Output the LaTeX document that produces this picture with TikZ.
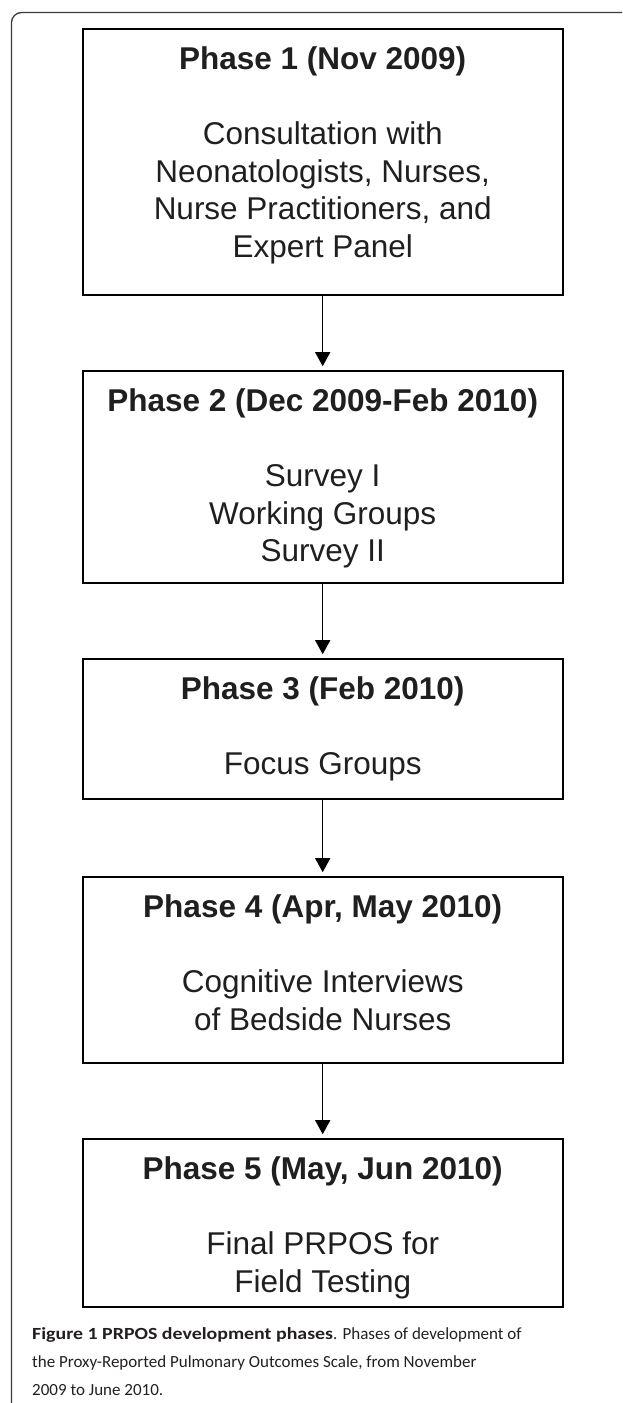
\documentclass[tikz,border=0pt]{standalone}
\usepackage{fontspec}
\setmainfont{Liberation Sans}
\newfontfamily\capfont{Carlito}
\newfontfamily\capbold{Carlito}[FakeStretch=1.17]
\usetikzlibrary{positioning,arrows.meta}
\definecolor{framegray}{HTML}{3A3A3A}
\definecolor{captext}{HTML}{231F20}
\tikzset{
  phasebox/.style={draw=black, line width=1.6pt, minimum width=480pt, inner sep=0pt},
  phasetext/.style={inner sep=0pt, align=center, text=black!88, font=\fontsize{31.5}{37.5}\selectfont},
  phasearrow/.style={-{Triangle[width=15pt,length=14pt]}, line width=1.3pt, shorten >=4pt}
}
\begin{document}
\begin{tikzpicture}[x=1pt,y=1pt]
    \useasboundingbox (0,0) rectangle (622,-1403);
    % frame round the figure
    \draw[framegray, line width=1.3pt, rounded corners=10pt] (11.5,-1403) -- (11.5,-12.5) -- (622,-12.5);

    \node[phasebox, minimum height=266pt] (p1) at (322.7,-162) {};
    \node[phasebox, minimum height=212pt] (p2) at (322.7,-477) {};
    \node[phasebox, minimum height=140pt] (p3) at (322.7,-729) {};
    \node[phasebox, minimum height=186pt] (p4) at (322.7,-970) {};
    \node[phasebox, minimum height=168pt] (p5) at (322.7,-1223) {};

    \node[phasetext, below=18.5pt of p1.north] (t1) {\textbf{Phase 1 (Nov 2009)}\\[37.5pt]
      Consultation with\\ Neonatologists, Nurses,\\ Nurse Practitioners, and\\ Expert Panel};
    \node[phasetext, below=18.5pt of p2.north] (t2) {\textbf{Phase 2 (Dec 2009-Feb 2010)}\\[37.5pt]
      Survey I\\ Working Groups\\ Survey II};
    \node[phasetext, below=18.5pt of p3.north] (t3) {\textbf{Phase 3 (Feb 2010)}\\[37.5pt]
      Focus Groups};
    \node[phasetext, below=18.5pt of p4.north] (t4) {\textbf{Phase 4 (Apr, May 2010)}\\[37.5pt]
      Cognitive Interviews\\ of Bedside Nurses};
    \node[phasetext, below=18.5pt of p5.north] (t5) {\textbf{Phase 5 (May, Jun 2010)}\\[37.5pt]
      Final PRPOS for\\ Field Testing};

    \draw[phasearrow] (p1) -- (p2);
    \draw[phasearrow] (p2) -- (p3);
    \draw[phasearrow] (p3) -- (p4);
    \draw[phasearrow] (p4) -- (p5);

    % caption (base = last line)
    \node[anchor=base west, inner sep=0pt, align=left, text=captext,
      font=\capfont\fontsize{17}{28}\selectfont] (cap) at (32,-1395)
      {{\capbold\bfseries Figure 1 PRPOS development phases}. Phases of development of\\
       the Proxy-Reported Pulmonary Outcomes Scale, from November\\
       2009 to June 2010.};
\end{tikzpicture}
\end{document}
